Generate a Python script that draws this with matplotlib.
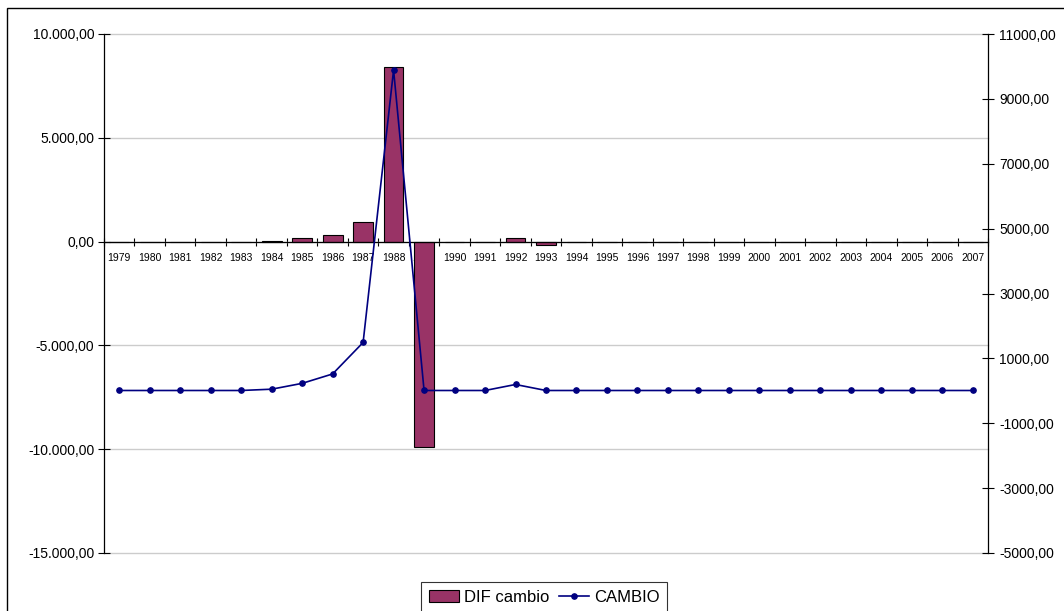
import matplotlib
matplotlib.use("Agg")
import matplotlib.pyplot as plt
from matplotlib.patches import Patch, Rectangle
from matplotlib.lines import Line2D
from matplotlib.ticker import FixedLocator, FuncFormatter

plt.rcParams['font.family'] = ['Liberation Sans', 'DejaVu Sans']

years = [str(y) for y in range(1979, 2008)]

# yearly change of the exchange rate (bars, left axis)
dif_cambio = [0, 0, 0, 0, 0, 40, 185, 300, 960, 8400, -9890, 0, 0, 185,
              -150, 0, 0, 0, 0, 0, 0, 0, 0, 0, 0, 0, 0, 0, 0]

# exchange rate level (line, right axis)
cambio = [10, 10, 10, 10, 10, 50, 230, 520, 1490, 9890, 10, 10, 10, 195,
          10, 10, 10, 10, 10, 10, 10, 10, 10, 10, 10, 10, 10, 10, 10]

W, H = 1064, 611
fig = plt.figure(figsize=(W / 100, H / 100), dpi=100)

# outer chart frame
fig.patches.append(Rectangle((7 / W, -0.2), 1.2, 1.2 - 8 / H,
                             transform=fig.transFigure, fill=False,
                             edgecolor='black', linewidth=1.0, clip_on=False))

left, right, top, bottom = 104, 988, 34, 553
ax = fig.add_axes([left / W, 1 - bottom / H, (right - left) / W, (bottom - top) / H])
ax2 = ax.twinx()

x = list(range(len(years)))

ax.bar(x, dif_cambio, width=0.65, color='#993366', edgecolor='black',
       linewidth=0.8, zorder=2)
ax2.plot(x, cambio, color='#000080', linewidth=1.2, marker='o',
         markersize=3.8, zorder=3)

ax.set_xlim(-0.5, len(years) - 0.5)
ax.set_ylim(-15000, 10000)
ax2.set_ylim(-5000, 11000)

# left axis
ax.yaxis.set_major_locator(FixedLocator([-15000, -10000, -5000, 0, 5000, 10000]))
ax.yaxis.set_major_formatter(FuncFormatter(
    lambda v, p: f"{v:,.2f}".replace(',', 'X').replace('.', ',').replace('X', '.')))
ax.tick_params(axis='y', direction='inout', length=8, width=0.8, pad=3,
               labelsize=10, color='black')
ax.yaxis.grid(True, color='#cccccc', linewidth=1.0, zorder=0)
for gl in ax.get_ygridlines():
    gl.set_clip_on(False)
ax.set_axisbelow(True)

# right axis
ax2.yaxis.set_major_locator(FixedLocator(list(range(-5000, 11001, 2000))))
ax2.yaxis.set_major_formatter(FuncFormatter(lambda v, p: f"{v:.2f}".replace('.', ',')))
ax2.tick_params(axis='y', direction='inout', length=8, width=0.8, pad=4,
                labelsize=10, color='black')

# category axis crossing at zero
ax.spines['bottom'].set_position(('data', 0))
ax.spines['bottom'].set_linewidth(0.9)
ax.spines['top'].set_visible(False)
ax.spines['right'].set_visible(False)
ax.spines['left'].set_linewidth(0.9)
for s in ['top', 'bottom', 'left']:
    ax2.spines[s].set_visible(False)
ax2.spines['right'].set_linewidth(0.9)

ax.set_xticks(x)
ax.set_xticklabels(years)
ax.set_xticks([i + 0.5 for i in range(-1, len(years))], minor=True)
ax.tick_params(axis='x', which='major', length=0, pad=8, labelsize=7.5)
ax.tick_params(axis='x', which='minor', direction='inout', length=6, width=0.8)

handles = [Patch(facecolor='#993366', edgecolor='black', linewidth=0.8),
           Line2D([], [], color='#000080', linewidth=1.2, marker='o', markersize=3.8)]
leg = fig.legend(handles, ['DIF cambio', 'CAMBIO'], loc='upper center',
                 bbox_to_anchor=(544 / W, 1 - 582 / H), ncol=2, fontsize=12,
                 frameon=True, fancybox=False, shadow=False, borderpad=0.45,
                 handlelength=1.8, handletextpad=0.3, columnspacing=0.6,
                 borderaxespad=0)
leg.get_frame().set_edgecolor('black')
leg.get_frame().set_linewidth(0.8)

fig.savefig('out.png', dpi=100)
